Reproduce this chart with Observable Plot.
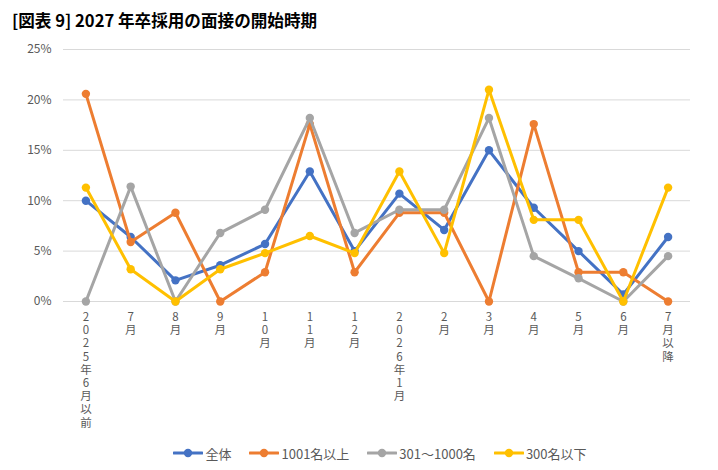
<!DOCTYPE html>
<html>
<head>
<meta charset="utf-8">
<script src="https://cdn.jsdelivr.net/npm/d3@7"></script>
<script src="https://cdn.jsdelivr.net/npm/@observablehq/plot@0.6"></script>
<style>
  body { margin: 0; background: #fff; font-family: "Noto Sans CJK JP", "Noto Sans", sans-serif; }
  #title { height: 36px; box-sizing: border-box; padding: 2px 0 0 12px; font-size: 16.6px; font-weight: bold; line-height: 36px; color: #000; white-space: pre; }
  #chart svg { display: block; }
  #legend { height: 34px; display: flex; justify-content: center; align-items: center; padding-left: 42px; font-size: 13px; color: #595959; }
  .item { display: flex; align-items: center; margin: 0 9px; }
  .item svg { margin-right: 2px; }
</style>
</head>
<body>
<div id="title">[図表 9] 2027 年卒採用の面接の開始時期</div>
<div id="chart"></div>
<div id="legend"></div>
<script>
// Interview start timing, share of companies (%)
const months = ["2025年6月以前", "7月", "8月", "9月", "10月", "11月", "12月", "2026年1月", "2月", "3月", "4月", "5月", "6月", "7月以降"];
const seriesNames = ["全体", "1001名以上", "301〜1000名", "300名以下"];
const zentai    = [10.0, 6.4, 2.1, 3.6, 5.7, 12.9, 5.0, 10.7, 7.1, 15.0, 9.3, 5.0, 0.7, 6.4];
const large     = [20.6, 5.9, 8.8, 0.0, 2.9, 17.6, 2.9, 8.8, 8.8, 0.0, 17.6, 2.9, 2.9, 0.0];
const medium    = [0.0, 11.4, 0.0, 6.8, 9.1, 18.2, 6.8, 9.1, 9.1, 18.2, 4.5, 2.3, 0.0, 4.5];
const small     = [11.3, 3.2, 0.0, 3.2, 4.8, 6.5, 4.8, 12.9, 4.8, 21.0, 8.1, 8.1, 0.0, 11.3];
const yTicks = [0, 5, 10, 15, 20, 25];
const colors = ["#4472C4", "#ED7D31", "#A5A5A5", "#FFC000"];

const seriesValues = [zentai, large, medium, small];
const rows = seriesValues.map((vals, s) =>
  vals.map((v, i) => ({ month: months[i], value: v, series: seriesNames[s] }))
);

// one line + markers per series, drawn in series order
const seriesMarks = rows.flatMap((data, s) => [
  Plot.lineY(data, { x: "month", y: "value", stroke: colors[s], strokeWidth: 3, strokeLinejoin: "round", strokeLinecap: "round" }),
  Plot.dot(data, { x: "month", y: "value", fill: colors[s], r: 4.2 })
]);

const chart = Plot.plot({
  width: 718,
  height: 400,
  marginTop: 13,
  marginBottom: 135,
  marginLeft: 63,
  marginRight: 28,
  style: { fontFamily: '"Noto Sans CJK JP", "Noto Sans", sans-serif', background: "#fff", overflow: "visible" },
  x: { type: "point", domain: months, padding: 0.5, round: false },
  y: { domain: [0, 25] },
  marks: [
    Plot.gridY(yTicks, { stroke: "#D9D9D9", strokeOpacity: 1, strokeWidth: 1 }),
    Plot.axisY(yTicks, {
      tickSize: 0, tickPadding: 12, fontSize: 12, fill: "#595959",
      tickFormat: d => d + "%", label: null
    }),
    // month labels stacked one character per line
    Plot.axisX({
      tickSize: 0, tickPadding: 10, fontSize: 11.5, fill: "#595959", lineHeight: 1.15,
      tickFormat: d => Array.from(d).join("\n"), label: null
    }),
    ...seriesMarks
  ]
});
document.getElementById("chart").append(chart);

// legend: line-with-marker swatch plus series name
const legend = document.getElementById("legend");
seriesNames.forEach((name, s) => {
  const item = document.createElement("div");
  item.className = "item";
  item.innerHTML =
    `<svg width="30" height="10"><line x1="1" y1="5" x2="29" y2="5" stroke="${colors[s]}" stroke-width="3" stroke-linecap="round"/>` +
    `<circle cx="15" cy="5" r="4.2" fill="${colors[s]}"/></svg><span>${name}</span>`;
  legend.append(item);
});
</script>
</body>
</html>
